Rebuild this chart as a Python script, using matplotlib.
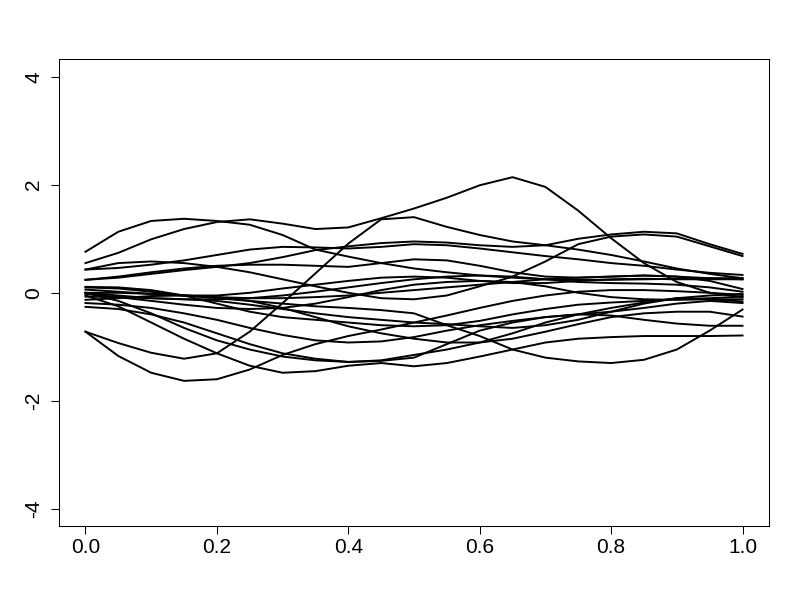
"""
Functional data curves on [0, 1], drawn in the style of an R base plot.
"""
import matplotlib
matplotlib.use('Agg')
import matplotlib.pyplot as plt

x_grid = [0.00, 0.05, 0.10, 0.15, 0.20, 0.25, 0.30, 0.35, 0.40, 0.45, 0.50,
          0.55, 0.60, 0.65, 0.70, 0.75, 0.80, 0.85, 0.90, 0.95, 1.00]

# curve values (one list per curve)
y01 = [0.76, 1.13, 1.33, 1.37, 1.33, 1.26, 1.07, 0.80, 0.67, 0.55, 0.45,
       0.38, 0.32, 0.28, 0.25, 0.24, 0.24, 0.25, 0.26, 0.27, 0.27]
y02 = [0.55, 0.74, 0.99, 1.18, 1.31, 1.36, 1.28, 1.18, 1.21, 1.38, 1.56,
       1.76, 1.99, 2.14, 1.96, 1.52, 1.01, 0.55, 0.20, 0.00, -0.08]
y03 = [-0.72, -0.93, -1.11, -1.22, -1.12, -0.72, -0.19, 0.36, 0.91, 1.36, 1.40,
       1.22, 1.07, 0.95, 0.88, 0.80, 0.70, 0.58, 0.45, 0.35, 0.27]
y04 = [-0.72, -1.17, -1.48, -1.63, -1.60, -1.42, -1.15, -0.95, -0.80, -0.68, -0.55,
       -0.42, -0.28, -0.15, -0.05, 0.02, 0.05, 0.05, 0.03, 0.00, -0.04]
y05 = [-0.05, -0.25, -0.55, -0.85, -1.12, -1.35, -1.48, -1.45, -1.35, -1.30, -1.36,
       -1.30, -1.18, -1.05, -0.92, -0.85, -0.82, -0.80, -0.80, -0.80, -0.79]
y06 = [0.00, -0.15, -0.38, -0.65, -0.88, -1.05, -1.18, -1.25, -1.28, -1.26, -1.20,
       -0.95, -0.70, -0.55, -0.45, -0.40, -0.42, -0.50, -0.57, -0.61, -0.61]
y07 = [0.10, 0.08, 0.02, -0.05, -0.10, -0.15, -0.20, -0.25, -0.28, -0.32, -0.38,
       -0.60, -0.80, -1.05, -1.20, -1.27, -1.30, -1.24, -1.05, -0.70, -0.31]
y08 = [0.43, 0.46, 0.52, 0.60, 0.70, 0.80, 0.85, 0.84, 0.82, 0.85, 0.90,
       0.88, 0.82, 0.75, 0.68, 0.62, 0.55, 0.50, 0.43, 0.37, 0.33]
y09 = [0.24, 0.30, 0.38, 0.45, 0.50, 0.52, 0.52, 0.50, 0.48, 0.55, 0.62,
       0.60, 0.50, 0.38, 0.30, 0.28, 0.30, 0.32, 0.30, 0.27, 0.25]
y10 = [0.43, 0.55, 0.58, 0.55, 0.48, 0.38, 0.25, 0.12, 0.00, -0.10, -0.12,
       -0.05, 0.12, 0.30, 0.58, 0.90, 1.04, 1.08, 1.04, 0.86, 0.68]
y11 = [0.11, 0.10, 0.05, -0.05, -0.20, -0.35, -0.45, -0.50, -0.55, -0.60, -0.62,
       -0.60, -0.52, -0.40, -0.30, -0.22, -0.18, -0.15, -0.12, -0.10, -0.07]
y12 = [0.06, 0.02, -0.02, -0.05, -0.05, 0.00, 0.08, 0.15, 0.22, 0.28, 0.30,
       0.28, 0.22, 0.18, 0.18, 0.22, 0.25, 0.26, 0.25, 0.25, 0.25]
y13 = [0.00, -0.05, -0.10, -0.12, -0.12, -0.10, -0.05, 0.02, 0.10, 0.18, 0.25,
       0.30, 0.32, 0.30, 0.25, 0.20, 0.18, 0.17, 0.15, 0.10, 0.02]
y14 = [-0.07, -0.08, -0.10, -0.12, -0.15, -0.22, -0.30, -0.38, -0.45, -0.50, -0.55,
       -0.58, -0.62, -0.65, -0.60, -0.50, -0.35, -0.20, -0.10, -0.12, -0.16]
y15 = [-0.13, -0.10, -0.06, -0.05, -0.08, -0.15, -0.28, -0.45, -0.62, -0.75, -0.85,
       -0.92, -0.92, -0.85, -0.72, -0.58, -0.45, -0.38, -0.35, -0.35, -0.44]
y16 = [-0.19, -0.22, -0.28, -0.38, -0.50, -0.65, -0.78, -0.88, -0.92, -0.90, -0.82,
       -0.70, -0.60, -0.52, -0.45, -0.40, -0.35, -0.28, -0.20, -0.15, -0.19]
y17 = [-0.26, -0.30, -0.40, -0.55, -0.75, -0.95, -1.12, -1.22, -1.28, -1.25, -1.15,
       -1.05, -0.92, -0.75, -0.55, -0.40, -0.28, -0.18, -0.10, -0.05, -0.02]
y18 = [0.00, 0.00, -0.02, -0.05, -0.08, -0.10, -0.10, -0.08, -0.05, 0.00, 0.05,
       0.10, 0.15, 0.20, 0.25, 0.28, 0.30, 0.32, 0.30, 0.22, 0.07]
y19 = [-0.02, -0.08, -0.15, -0.22, -0.28, -0.30, -0.28, -0.20, -0.08, 0.05, 0.15,
       0.20, 0.22, 0.20, 0.12, 0.00, -0.08, -0.12, -0.13, -0.12, -0.12]
y20 = [0.24, 0.28, 0.35, 0.42, 0.48, 0.55, 0.66, 0.79, 0.86, 0.92, 0.95,
       0.93, 0.88, 0.85, 0.88, 1.00, 1.08, 1.13, 1.10, 0.90, 0.72]

curves = [y01, y02, y03, y04, y05, y06, y07, y08, y09, y10,
          y11, y12, y13, y14, y15, y16, y17, y18, y19, y20]

x_ticks = [0.0, 0.2, 0.4, 0.6, 0.8, 1.0]
x_tick_labels = ['0.0', '0.2', '0.4', '0.6', '0.8', '1.0']
y_ticks = [-4, -2, 0, 2, 4]
y_tick_labels = ['-4', '-2', '0', '2', '4']

plt.rcParams['font.family'] = ['Liberation Sans', 'DejaVu Sans']

fig = plt.figure(figsize=(8, 6), dpi=100)
ax = fig.add_axes([0.074, 0.123, 0.887, 0.778])

for y in curves:
    ax.plot(x_grid, y, color='black', linewidth=1.4, solid_joinstyle='round')

ax.set_xlim(-0.04, 1.04)
ax.set_ylim(-4.32, 4.32)

ax.set_xticks(x_ticks)
ax.set_xticklabels(x_tick_labels, fontsize=15)
ax.set_yticks(y_ticks)
ax.set_yticklabels(y_tick_labels, fontsize=15, rotation=90, va='center')

ax.tick_params(axis='x', length=5.5, width=0.75, pad=3)
ax.tick_params(axis='y', length=5.5, width=0.75, pad=6)
for spine in ax.spines.values():
    spine.set_linewidth(0.75)

fig.savefig('out.png', dpi=100)
plt.close(fig)
